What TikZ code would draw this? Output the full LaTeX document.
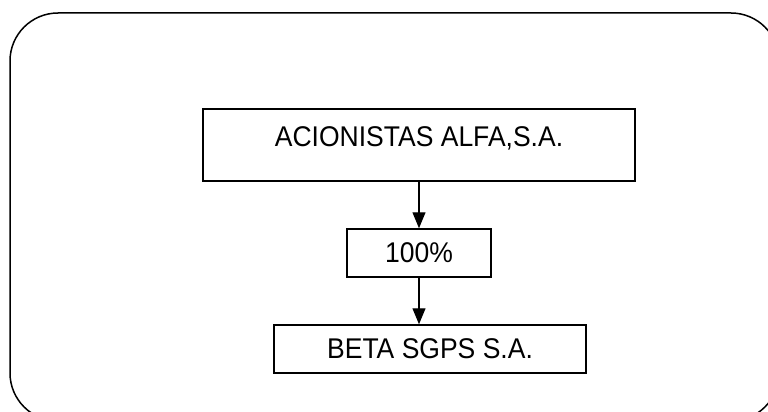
\documentclass[tikz,border=0pt]{standalone}
\usepackage{fontspec}
\setmainfont{Liberation Sans}
\usetikzlibrary{arrows.meta}
% slightly condensed labels
\newcommand{\narrowtext}[1]{\scalebox{0.93}[1]{#1}}
\begin{document}
\begin{tikzpicture}[x=1pt,y=-1pt,
  every node/.style={font=\fontsize{28.5}{32}\selectfont},
  box/.style={draw,line width=1.5pt,inner sep=0pt,minimum height=48pt,align=center},
  link/.style={line width=1.2pt,-{Triangle[length=16pt,width=13pt]}}]
  \useasboundingbox (0,0) rectangle (768,412);
  \clip (0,0) rectangle (768,412);
  % outer frame with rounded corners
  \draw[line width=1.5pt,rounded corners=48pt] (10,13) rectangle (779,421);
  % shareholder box, text set in its upper part
  \node[draw,line width=1.5pt,inner sep=0pt,minimum width=432pt,
        text height=37pt,text depth=35pt] (top) at (419,145) {\narrowtext{ACIONISTAS ALFA,S.A.}};
  \node[box,minimum width=144pt] (pct) at (419,253) {\narrowtext{100\%}};
  \node[box,minimum width=312pt] (beta) at (430,349) {\narrowtext{BETA SGPS S.A.}};
  \draw[link] (top.south) -- (pct.north);
  \draw[link] (pct.south) -- (pct.south |- beta.north);
\end{tikzpicture}
\end{document}
